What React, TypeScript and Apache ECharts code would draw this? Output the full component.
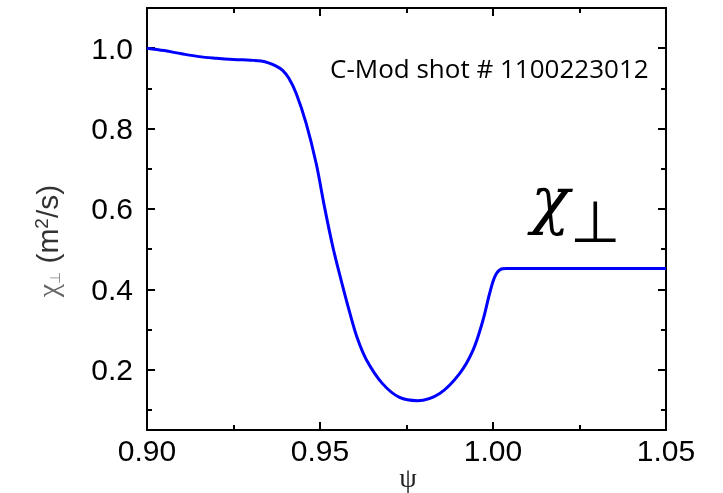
import React, { useEffect, useRef } from "react";
import * as echarts from "echarts";

// Normalised flux coordinate and perpendicular diffusivity profile
const psi = [
  0.9, 0.905, 0.91, 0.915, 0.92, 0.925, 0.93, 0.933, 0.9353, 0.9372, 0.9392,
  0.941, 0.9431, 0.946, 0.9489, 0.9513, 0.9537, 0.9561, 0.9585, 0.9608, 0.9634,
  0.968, 0.973, 0.9782, 0.9846, 0.9904, 0.9942, 0.9971, 0.999, 1.0005, 1.002,
  1.0039, 1.01, 1.02, 1.03, 1.04, 1.05,
];
const chiPerp = [
  1.0, 0.994, 0.986, 0.979, 0.975, 0.972, 0.97, 0.968, 0.963, 0.956, 0.945,
  0.925, 0.888, 0.813, 0.713, 0.605, 0.506, 0.423, 0.345, 0.278, 0.225,
  0.166, 0.131, 0.123, 0.141, 0.191, 0.248, 0.323, 0.389, 0.431, 0.449,
  0.452, 0.452, 0.452, 0.452, 0.452, 0.452,
];

const yMajor = [0.2, 0.4, 0.6, 0.8, 1.0];
const yMinor = [0.1, 0.3, 0.5, 0.7, 0.9];
const shotLabel = "C-Mod shot # 1100223012";

const AXIS = "#000";
const TICK_FONT = "'Liberation Sans', Arial, sans-serif";

export default function App() {
  const ref = useRef<HTMLDivElement>(null);

  useEffect(() => {
    if (!ref.current) return;
    const chart = echarts.init(ref.current, undefined, { renderer: "svg" });
    const data = psi.map((p, i) => [p, chiPerp[i]]);

    const lineStyle = { color: AXIS, width: 2 };
    const baseX = {
      type: "value" as const,
      min: 0.9,
      max: 1.05,
      interval: 0.05,
      splitLine: { show: false },
      axisLine: { show: true, onZero: false, lineStyle },
      axisTick: { show: true, inside: true, length: 8, lineStyle },
      minorTick: { show: true, splitNumber: 2, length: 5, lineStyle },
    };
    const baseY = {
      type: "value" as const,
      min: 0.05,
      max: 1.1,
      splitLine: { show: false },
      axisLine: { show: true, onZero: false, lineStyle },
    };

    chart.setOption({
      animation: false,
      grid: { left: 147, right: 57, top: 8, bottom: 63, containLabel: false },
      xAxis: [
        {
          ...baseX,
          position: "bottom",
          axisLabel: {
            show: true,
            fontSize: 30,
            fontFamily: TICK_FONT,
            color: "#000",
            margin: 5,
            formatter: (v: number) => v.toFixed(2),
          },
        },
        { ...baseX, position: "top", axisLabel: { show: false } },
      ],
      yAxis: [
        {
          ...baseY,
          position: "left",
          axisTick: { show: true, inside: true, length: 8, lineStyle, customValues: yMajor },
          axisLabel: {
            show: true,
            customValues: yMajor,
            fontSize: 30,
            fontFamily: TICK_FONT,
            color: "#000",
            margin: 14,
            formatter: (v: number) => v.toFixed(1),
          },
        },
        {
          ...baseY,
          position: "right",
          axisTick: { show: true, inside: true, length: 8, lineStyle, customValues: yMajor },
          axisLabel: { show: false },
        },
        {
          ...baseY,
          position: "left",
          axisLine: { show: false },
          axisTick: { show: true, inside: true, length: 5, lineStyle, customValues: yMinor },
          axisLabel: { show: false },
        },
        {
          ...baseY,
          position: "right",
          axisLine: { show: false },
          axisTick: { show: true, inside: true, length: 5, lineStyle, customValues: yMinor },
          axisLabel: { show: false },
        },
      ],
      series: [
        {
          type: "line",
          xAxisIndex: 0,
          yAxisIndex: 0,
          data,
          showSymbol: false,
          smooth: 0.35,
          lineStyle: { color: "#0000ff", width: 3 },
          z: 1,
        },
      ],
      graphic: [
        {
          type: "text",
          x: 330,
          y: 68,
          style: {
            text: shotLabel,
            fontSize: 26,
            fontFamily: "'Open Sans', sans-serif",
            fill: "#000",
            align: "left",
            verticalAlign: "middle",
          },
        },
        {
          type: "text",
          x: 531,
          y: 200,
          style: {
            text: "χ",
            fontSize: 64,
            fontStyle: "italic",
            fontFamily: "'DejaVu Serif', serif",
            fill: "#000",
            align: "left",
            verticalAlign: "middle",
          },
        },
        {
          type: "text",
          x: 570,
          y: 222,
          style: {
            text: "⊥",
            fontSize: 58,
            fontWeight: 200,
            fontFamily: "'DejaVu Sans', sans-serif",
            fill: "#000",
            align: "left",
            verticalAlign: "middle",
          },
        },
        {
          type: "text",
          x: 47,
          y: 241,
          rotation: Math.PI / 2,
          style: {
            text: "{c|χ}{s|⊥} (m{p|2}/s)",
            fontSize: 30,
            fontFamily: TICK_FONT,
            fill: "#333",
            align: "center",
            verticalAlign: "middle",
            rich: {
              c: { fontSize: 30, fontFamily: "'Liberation Serif', serif", fill: "#666" },
              s: { fontSize: 14, fill: "#888", verticalAlign: "bottom" },
              p: { fontSize: 19, fill: "#333", verticalAlign: "top" },
            },
          },
        },
        {
          type: "text",
          x: 408,
          y: 463,
          style: {
            text: "ψ",
            fontSize: 28,
            fontFamily: "'Liberation Serif', serif",
            fill: "#222",
            align: "center",
            verticalAlign: "top",
          },
        },
      ],
    });

    return () => chart.dispose();
  }, []);

  return (
    <div
      ref={ref}
      style={{ position: "fixed", left: 0, top: 0, width: 723, height: 493 }}
    />
  );
}
